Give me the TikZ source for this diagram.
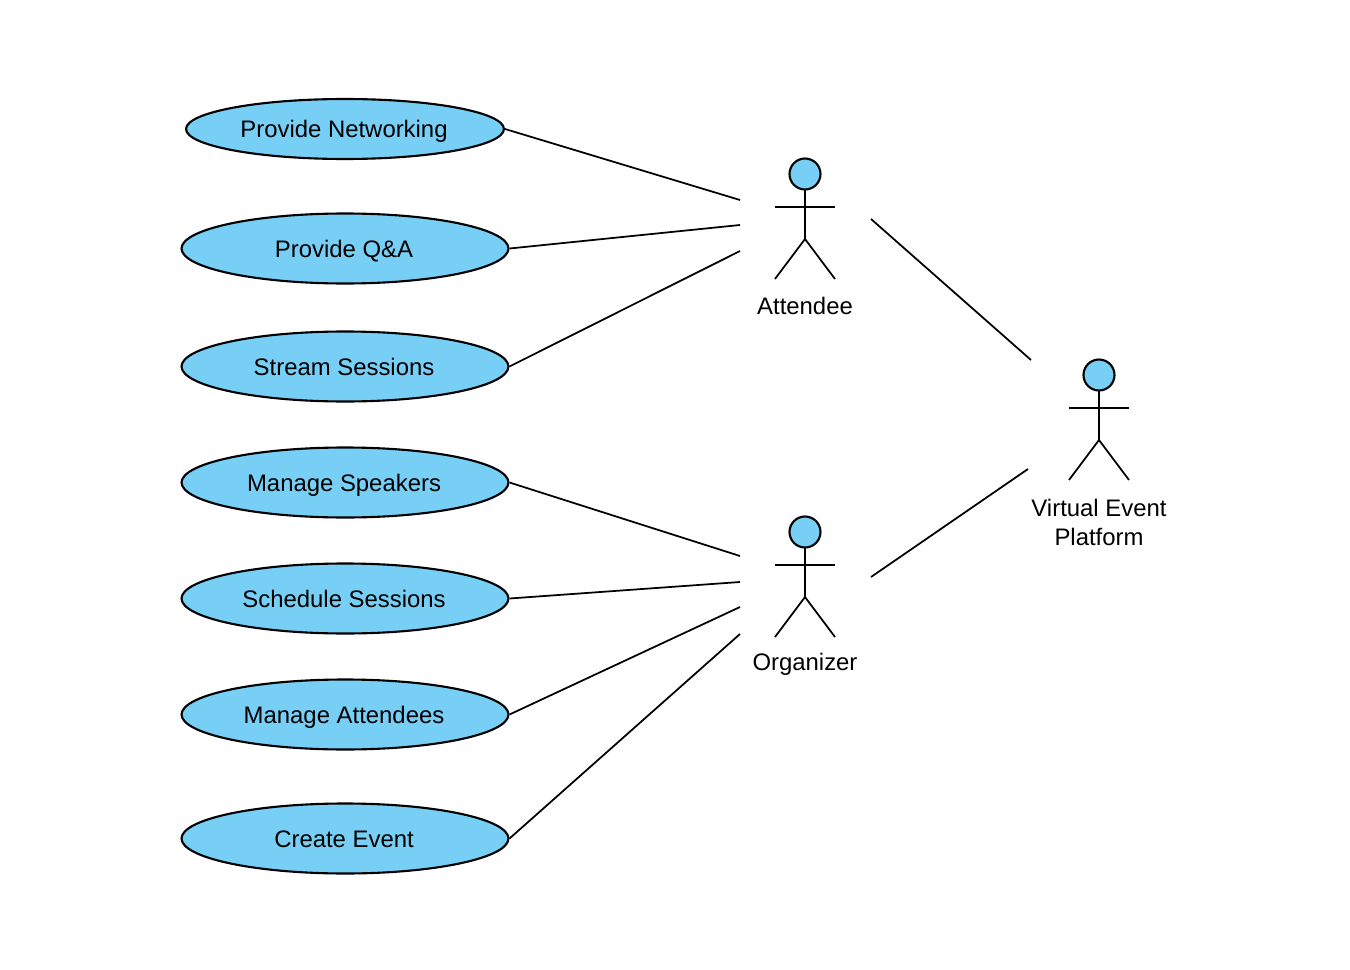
\documentclass[tikz,border=0pt]{standalone}
\usepackage{fontspec}
\setmainfont{Liberation Sans}
\usepackage{xcolor}
\definecolor{CaseBlue}{HTML}{78CFF6}
\usepackage{tikz}
\usetikzlibrary{shapes.geometric}

\tikzset{
  usecase/.style={ellipse, draw=black, fill=CaseBlue, line width=1.2pt, inner sep=0pt,
    minimum width=6.54cm, minimum height=1.4cm, text height=11.8pt, text depth=2pt,
    execute at end node=\kern1.1pt, font=\fontsize{13.6}{16.4}\selectfont},
  actorlabel/.style={align=center, inner sep=0pt, font=\fontsize{13.6}{16.4}\selectfont},
  link/.style={black, line width=1pt},
  pics/actor/.style={code={
    \draw[link] (0,15) -- (0,65);
    \draw[link] (-30,33) -- (30,33);
    \draw[link] (-30,105) -- (0,65) -- (30,105);
    \filldraw[fill=CaseBlue, draw=black, line width=1.2pt] (0,0) circle (15.5);
  }}
}

\begin{document}
\begin{tikzpicture}[x=0.02cm, y=-0.02cm]
  \useasboundingbox (0,0) rectangle (1350,970);

  % Use cases
  \node[usecase, minimum width=6.36cm, minimum height=1.2cm] (networking) at (345,129) {Provide Networking};
  \node[usecase] (qa) at (345,248.5) {Provide Q\&A};
  \node[usecase] (stream) at (345,366.5) {Stream Sessions};
  \node[usecase] (speakers) at (345,482.5) {Manage Speakers};
  \node[usecase] (schedule) at (345,598.5) {Schedule Sessions};
  \node[usecase] (attendees) at (345,714.5) {Manage Attendees};
  \node[usecase] (create) at (345,838.5) {Create Event};

  % Actors
  \pic at (805,174) {actor};
  \pic at (805,532) {actor};
  \pic at (1099,375) {actor};
  \node[actorlabel] (attendee) at (805,306) {Attendee};
  \node[actorlabel] (organizer) at (805,664) {Organizer};
  \node[actorlabel] (platform) at (1099,522.5) {Virtual Event\\Platform};

  % Free ends beside the actors
  \coordinate (a1) at (740,200);
  \coordinate (a2) at (740,225);
  \coordinate (a3) at (740,251);
  \coordinate (a4) at (871,219);
  \coordinate (o1) at (740,556);
  \coordinate (o2) at (740,582);
  \coordinate (o3) at (740,607);
  \coordinate (o4) at (740,634);
  \coordinate (o5) at (871,577);
  \coordinate (p1) at (1031,360);
  \coordinate (p2) at (1028,469);

  % Connectors
  \draw[link] (networking.east) -- (a1);
  \draw[link] (qa.east) -- (a2);
  \draw[link] (stream.east) -- (a3);
  \draw[link] (speakers.east) -- (o1);
  \draw[link] (schedule.east) -- (o2);
  \draw[link] (attendees.east) -- (o3);
  \draw[link] (create.east) -- (o4);
  \draw[link] (a4) -- (p1);
  \draw[link] (o5) -- (p2);
\end{tikzpicture}
\end{document}
